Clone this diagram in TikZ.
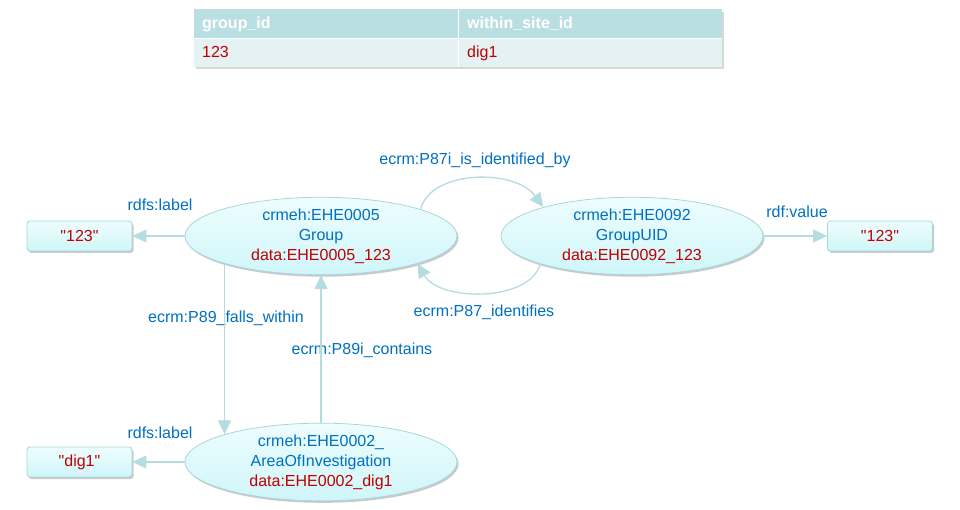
\documentclass[tikz,border=0pt]{standalone}
\usepackage{fontspec}
\setmainfont{Liberation Sans}[Ligatures=TeXOff]
\usetikzlibrary{arrows.meta,shadows,shapes.geometric,calc}
\definecolor{linec}{HTML}{B5DCE1}
\definecolor{txtblue}{HTML}{0070C0}
\definecolor{txtred}{HTML}{C00000}
\definecolor{hdrfill}{HTML}{B9DFE3}
\definecolor{rowfill}{HTML}{E5F2F4}
\definecolor{nodetop}{HTML}{EEFDFE}
\definecolor{nodebot}{HTML}{CFF6F9}
\definecolor{nodeedge}{HTML}{A9D6DC}
\newcommand{\qt}{\symbol{34}}
\begin{document}
\begin{tikzpicture}[x=1pt,y=-1pt,
  font=\fontsize{16}{20}\selectfont,
  every node/.style={inner sep=0pt},
  entity/.style={ellipse, minimum width=272pt, minimum height=75pt,
    top color=nodetop, bottom color=nodebot, draw=nodeedge, line width=0.8pt,
    align=center, text=txtblue,
    drop shadow={shadow xshift=1.5pt, shadow yshift=-2pt, opacity=0.35, fill=black!60}},
  literal/.style={rectangle, rounded corners=3pt, minimum width=105pt, minimum height=30pt,
    top color=nodetop, bottom color=nodebot, draw=nodeedge, line width=0.8pt,
    text=txtred,
    drop shadow={shadow xshift=1.5pt, shadow yshift=-2pt, opacity=0.35, fill=black!60}},
  prop/.style={text=txtblue},
  link/.style={draw=linec, line width=1.3pt,
    -{Triangle[length=14pt,width=13pt,fill=linec]}},
  hdr/.style={text=white, font=\fontsize{16}{18}\selectfont\bfseries, anchor=base west},
  cell/.style={text=txtred, anchor=base west}
]
\useasboundingbox (0,0) rectangle (960,510);

% source table
\fill[black!30, opacity=0.5] (196,12) rectangle (724,69);
\fill[hdrfill] (194,9) rectangle (722,38);
\fill[rowfill] (194,39) rectangle (722,67);
\draw[white, line width=1pt] (194,38.5) -- (722,38.5);
\draw[white, line width=1pt] (458,9) -- (458,67);
\node[hdr] (h1) at (202,29) {group\_id};
\node[hdr] (h2) at (467,29) {within\_site\_id};
\node[cell] (c1) at (202,58) {123};
\node[cell] (c2) at (467,58) {dig1};

% resources
\node[entity] (grp) at (321,236)
  {crmeh:EHE0005\\Group\\\textcolor{txtred}{data:EHE0005\_123}};
\node[entity, minimum width=262pt] (uid) at (632,236)
  {crmeh:EHE0092\\GroupUID\\\textcolor{txtred}{data:EHE0092\_123}};
\node[entity] (aoi) at (321,462)
  {crmeh:EHE0002\_\\AreaOfInvestigation\\\textcolor{txtred}{data:EHE0002\_dig1}};

% literals
\node[literal] (lit1) at (79.5,236) {\qt123\qt};
\node[literal] (lit2) at (880,236) {\qt123\qt};
\node[literal] (lit3) at (79.5,462) {\qt dig1\qt};

% property labels
\node[prop] (p1) at (160,205) {rdfs:label};
\node[prop] (p2) at (797,212) {rdf:value};
\node[prop] (p3) at (475,160) {ecrm:P87i\_is\_identified\_by};
\node[prop] (p4) at (484,312) {ecrm:P87\_identifies};
\node[prop] (p5) at (226,318) {ecrm:P89\_falls\_within};
\node[prop] (p6) at (362,350) {ecrm:P89i\_contains};
\node[prop] (p7) at (160,433) {rdfs:label};

% connectors
\draw[link] (grp.west) -- (lit1.east);
\draw[link] (uid.east) -- (lit2.west);
\draw[link] (aoi.west) -- (lit3.east);
\draw[link] (grp.15) .. controls (430,170) and (515,168) .. (uid.162);
\draw[link] (uid.197) .. controls (530,302) and (440,302) .. (grp.344);
\draw[link] (grp.196) -- (grp.196 |- aoi.164);
\draw[link] (aoi.north) -- (grp.south);
\end{tikzpicture}
\end{document}
